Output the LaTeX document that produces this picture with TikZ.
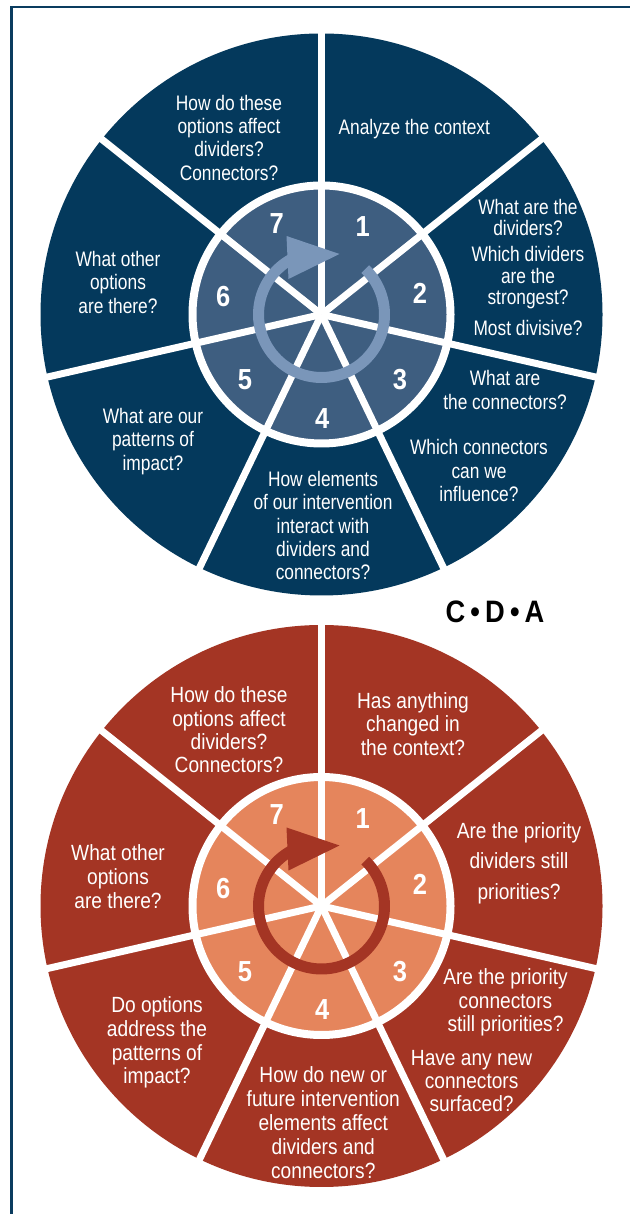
\documentclass[tikz,border=0pt]{standalone}
\usepackage{fontspec}
\setmainfont{Liberation Sans}
\newfontfamily\topfont{Liberation Sans}[FakeStretch=0.826]
\newfontfamily\botfont{Liberation Sans}[FakeStretch=0.87]
\newfontfamily\numfont{Liberation Sans}[FakeStretch=0.88]
\newfontfamily\cdafont{Liberation Sans}[FakeStretch=0.88]
\definecolor{navyout}{RGB}{4,57,92}
\definecolor{navyhub}{RGB}{62,94,128}
\definecolor{navyarrow}{RGB}{122,150,185}
\definecolor{rustout}{RGB}{164,53,36}
\definecolor{rusthub}{RGB}{229,133,92}
\definecolor{rustarrow}{RGB}{164,53,36}
\definecolor{framecol}{RGB}{10,60,95}
\tikzset{
  wtxt/.style={text=white, align=center, inner sep=0pt},
  ttxt/.style={wtxt, font=\topfont\fontsize{21}{#1}\selectfont},
  ttxt/.default=23.3,
  btxt/.style={wtxt, font=\botfont\fontsize{22}{#1}\selectfont},
  btxt/.default=23.3,
  num/.style={text=white, inner sep=0pt, font=\numfont\bfseries\fontsize{29}{29}\selectfont},
  divider/.style={white, line width=7pt},
  ring/.style={white, line width=8pt}
}
\newcommand{\drawwheel}[4]{%
  \fill[#2] (0,0) circle (281);
  \fill[#3] (0,0) circle (129);
  \draw[ring] (0,0) circle (129);
  \foreach \a in {90,38.571,-12.857,-64.286,-115.714,-167.143,141.429}
    \draw[divider] (0,0) -- (\a:284);
  \draw[#4, line width=11pt] (46:63) arc[start angle=46, end angle=-241, radius=63];
  \fill[#4] (-35,78.5) -- (18,60.5) -- (-33,35.5) -- cycle;
  \node[num] (#1n1) at (41.2,87.8) {1};
  \node[num] (#1n2) at (98.5,21.2) {2};
  \node[num] (#1n3) at (78.5,-65.5) {3};
  \node[num] (#1n4) at (0.8,-103.8) {4};
  \node[num] (#1n5) at (-76.5,-65.5) {5};
  \node[num] (#1n6) at (-98.2,17.8) {6};
  \node[num] (#1n7) at (-44.8,91.2) {7};
}
\begin{document}
\begin{tikzpicture}[x=1pt,y=1pt]
\useasboundingbox (0,0) rectangle (629,1214);
\fill[white] (0,0) rectangle (629,1214);
\draw[framecol, line width=2.5pt] (11.7,-5) -- (11.7,1207) -- (640,1207);

% top wheel
\begin{scope}[shift={(321.5,899.5)}]
  \drawwheel{top}{navyout}{navyhub}{navyarrow}
\end{scope}
\node[ttxt] (t1) at (414.3,1085) {Analyze the context};
\node[ttxt=21.1] (t2a) at (528,996.1) {What are the\\dividers?};
\node[ttxt=21.5] (t2b) at (528,936) {Which dividers\\are the\\strongest?};
\node[ttxt] (t2c) at (528,885.7) {Most divisive?};
\node[ttxt=23.8] (t3a) at (505,824.2) {What are\\the connectors?};
\node[ttxt=23.4] (t3b) at (479,743.2) {Which connectors\\can we\\influence?};
\node[ttxt] (t4) at (323,688.2) {How elements\\of our intervention\\interact with\\dividers and\\connectors?};
\node[ttxt] (t5) at (153,772.6) {What are our\\patterns of\\impact?};
\node[ttxt] (t6) at (118,931.5) {What other\\options\\are there?};
\node[ttxt] (t7) at (229,1076.2) {How do these\\options affect\\dividers?\\Connectors?};

\node[inner sep=0pt, font=\cdafont\bfseries\fontsize{31}{31}\selectfont] (cda) at (495,602) {C\,•\,D\,•\,A};

% bottom wheel
\begin{scope}[shift={(321.5,308)}]
  \drawwheel{bot}{rustout}{rusthub}{rustarrow}
\end{scope}
\node[btxt=23.4] (b1) at (413,490.2) {Has anything\\changed in\\the context?};
\node[btxt=30.4] (b2) at (519,351) {Are the priority\\dividers still\\priorities?};
\node[btxt=23.6] (b3a) at (505.5,211.6) {Are the priority\\connectors\\still priorities?};
\node[btxt=23] (b3b) at (471.6,133) {Have any new\\connectors\\surfaced?};
\node[btxt=24] (b4) at (323.3,91.8) {How do new or\\future intervention\\elements affect\\dividers and\\connectors?};
\node[btxt=23.8] (b5) at (157,171.4) {Do options\\address the\\patterns of\\impact?};
\node[btxt=24.3] (b6) at (118,337.5) {What other\\options\\are there?};
\node[btxt] (b7) at (229,484) {How do these\\options affect\\dividers?\\Connectors?};
\end{tikzpicture}
\end{document}
